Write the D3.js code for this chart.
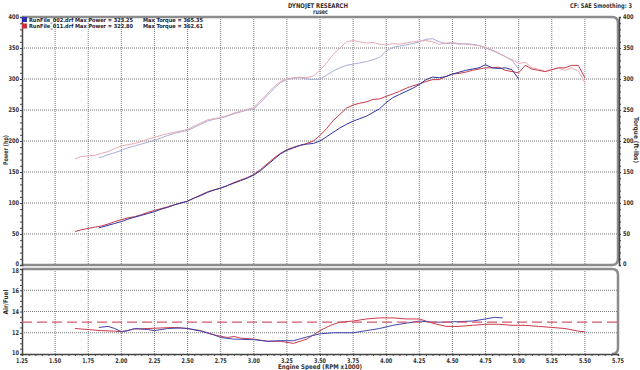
<!DOCTYPE html>
<html>
<head>
<meta charset="utf-8">
<script src="https://cdn.jsdelivr.net/npm/d3@7"></script>
<style>
  body { margin: 0; background: #fff; }
  svg text { font-family: "DejaVu Sans Condensed", "DejaVu Sans", sans-serif; font-weight: bold; font-size: 6.5px; fill: #333; }
  .grid line { stroke: #777; stroke-width: 1; stroke-dasharray: 1,1; }
  .axis path, .axis line { stroke: #444; }
</style>
</head>
<body>
<div id="chart"></div>
<script>
// run 011 (red) - power / torque
const rpm011 = [1.65,1.70,1.75,1.80,1.85,1.90,1.95,2.00,2.05,2.10,2.15,2.20,2.25,2.30,2.35,2.40,2.45,2.50,
    2.55,2.60,2.65,2.70,2.75,2.80,2.85,2.90,2.95,3.00,3.05,3.10,3.15,3.20,3.25,3.30,3.35,3.40,3.45,3.50,
    3.55,3.60,3.65,3.70,3.75,3.80,3.85,3.90,3.95,4.00,4.05,4.10,4.15,4.20,4.25,4.30,4.35,4.40,4.45,4.50,
    4.55,4.60,4.65,4.70,4.75,4.80,4.85,4.90,4.95,5.00,5.05,5.10,5.15,5.20,5.25,5.30,5.35,5.40,5.45,5.50]
const power011 = [54,57,59,61,63,66,70,73,76,78,81,85,88,91,94,97,100,103,
    108,113,118,121,124,128,133,137,141,146,154,163,172,180,186,190,193,196,200,209,
    220,233,243,253,258,261,263,267,268,272,276,280,285,289,292,296,299,299,304,308,
    309,311,314,316,318,318,319,314,312,310,322,316,314,312,315,318,318,322,322,302]
const torque011 = [171,175,176,177,180,183,188,192,194,196,199,203,206,209,212,214,216,219,
    224,229,234,236,238,241,245,248,251,254,265,276,287,296,300,302,303,302,305,314,
    326,340,350,360,362,360,358,359,356,355,357,356,358,360,361,362,360,356,358,359,
    357,356,355,354,351,347,342,336,331,325,327,318,316,312,315,318,314,318,313,294]

// run 002 (blue) - power / torque
const rpm002 = [1.83,1.85,1.90,1.95,2.00,2.05,2.10,2.15,2.20,2.25,2.30,2.35,2.40,2.45,2.50,
    2.55,2.60,2.65,2.70,2.75,2.80,2.85,2.90,2.95,3.00,3.05,3.10,3.15,3.20,3.25,3.30,3.35,3.40,3.45,3.50,
    3.55,3.60,3.65,3.70,3.75,3.80,3.85,3.90,3.95,4.00,4.05,4.10,4.15,4.20,4.25,4.30,4.35,4.40,4.45,4.50,
    4.55,4.60,4.65,4.70,4.75,4.80,4.85,4.90,4.95,5.00]
const power002 = [60,61,64,67,70,74,77,80,83,86,90,93,97,100,103,
    108,112,117,121,124,128,132,136,140,145,152,161,170,179,185,189,193,195,196,200,
    207,214,221,227,232,236,240,246,252,262,270,275,280,285,291,299,303,302,304,308,
    311,314,316,318,323,318,317,318,315,300]
const torque002 = [173,174,178,181,185,189,192,195,198,201,205,209,212,215,217,
    222,227,232,235,237,240,244,247,250,252,262,273,284,294,299,301,302,300,299,300,
    306,313,318,322,324,326,328,331,335,345,351,353,355,357,360,364,365,360,357,358,
    356,357,356,354,350,346,341,336,330,316]

// air / fuel
const afrRpm011 = [1.65,1.75,1.85,1.95,2.00,2.10,2.20,2.30,2.40,2.50,2.60,2.70,2.80,2.85,2.90,3.00,
    3.10,3.20,3.30,3.40,3.50,3.58,3.65,3.75,3.85,3.95,4.05,4.15,4.25,4.35,4.45,4.55,4.65,4.75,
    4.85,4.95,5.05,5.15,5.25,5.35,5.45,5.50]
const afr011 = [12.4,12.3,12.2,12.15,12.1,12.35,12.4,12.45,12.5,12.4,12.2,11.8,11.55,11.65,11.5,11.4,
    11.2,11.2,11.0,11.4,12.2,12.7,13.0,13.1,13.3,13.4,13.4,13.3,13.3,12.9,12.6,12.6,12.7,12.8,
    12.8,12.7,12.7,12.6,12.5,12.4,12.15,12.1]
const afrRpm002 = [1.83,1.90,1.95,2.00,2.05,2.10,2.20,2.25,2.35,2.45,2.50,2.60,2.70,2.75,2.85,3.00,
    3.10,3.20,3.30,3.40,3.50,3.60,3.75,3.85,3.95,4.05,4.15,4.25,4.35,4.45,4.55,4.65,4.75,4.82,4.88]
const afr002 = [12.5,12.6,12.4,12.1,12.2,12.4,12.3,12.2,12.4,12.45,12.4,12.15,11.8,11.55,11.4,11.35,
    11.2,11.25,11.25,11.6,11.9,12.0,12.0,12.2,12.4,12.7,12.9,13.1,13.0,13.0,13.05,13.1,13.3,13.45,13.4]
const afrTarget = 13

const rpmTicks = [1.25,1.50,1.75,2.00,2.25,2.50,2.75,3.00,3.25,3.50,3.75,4.00,4.25,4.50,4.75,5.00,5.25,5.50,5.75]
const powerTicks = [0,50,100,150,200,250,300,350,400]
const afrTicks = [10,12,14,16,18]

const legendRows = [
    {name: 'RunFile_002.drf', power: '323.25', torque: '365.35', color: '#2b2fa8'},
    {name: 'RunFile_011.drf', power: '322.80', torque: '362.61', color: '#c8303c'}
]

//variables
const width = 640
const height = 370
const x = d3.scaleLinear().domain([1.25, 5.75]).range([22, 618])
const yP = d3.scaleLinear().domain([0, 400]).range([265, 17])
const yA = d3.scaleLinear().domain([10, 18]).range([354, 269])

const svg = d3.select('#chart')
    .append('svg')
    .attr('width', width)
    .attr('height', height)

// text helper: fixed width so the narrow dyno font is matched
const label = (g, txt, px, py, len, anchor) => {
    const t = g.append('text')
        .attr('x', px).attr('y', py)
        .attr('text-anchor', anchor || 'start')
        .text(txt)
    if (len) t.attr('textLength', len).attr('lengthAdjust', 'spacingAndGlyphs')
    return t
}

//grid
const grid = svg.append('g').attr('class', 'grid')
const innerRpm = rpmTicks.slice(1, -1)
grid.selectAll('.vt')
    .data(innerRpm)
    .enter()
    .append('line')
    .attr('x1', (d) => x(d)).attr('x2', (d) => x(d))
    .attr('y1', yP(400)).attr('y2', yP(0))
grid.selectAll('.vb')
    .data(innerRpm)
    .enter()
    .append('line')
    .attr('x1', (d) => x(d)).attr('x2', (d) => x(d))
    .attr('y1', yA(18)).attr('y2', yA(10))
grid.selectAll('.ht')
    .data(powerTicks.slice(1, -1))
    .enter()
    .append('line')
    .attr('x1', x(1.25)).attr('x2', x(5.75))
    .attr('y1', (d) => yP(d)).attr('y2', (d) => yP(d))
grid.selectAll('.hb')
    .data(afrTicks.slice(1, -1))
    .enter()
    .append('line')
    .attr('x1', x(1.25)).attr('x2', x(5.75))
    .attr('y1', (d) => yA(d)).attr('y2', (d) => yA(d))

//frames
const frame = (top, bottom, drawBottom) => {
    const l = x(1.25), r = x(5.75), c = 6
    let p = `M${l},${top} H${r - c} Q${r},${top} ${r},${top + c} V${bottom - c} Q${r},${bottom} ${r - c},${bottom}`
    if (drawBottom) p += ` H${l}`
    svg.append('path')
        .attr('d', p)
        .attr('fill', 'none')
        .attr('stroke', '#8c8c8c')
        .attr('stroke-width', 2.5)
}
frame(yP(400), yP(0), true)
frame(yA(18), yA(10), false)

//axes
svg.append('g').attr('class', 'axis')
    .attr('transform', `translate(${x(1.25)},0)`)
    .call(d3.axisLeft(yP).tickValues(d3.range(0, 401, 10)).tickSize(2).tickFormat(''))
svg.append('g').attr('class', 'axis')
    .attr('transform', `translate(${x(5.75) + 1},0)`)
    .call(d3.axisRight(yP).tickValues(d3.range(0, 401, 10)).tickSize(2).tickFormat(''))
svg.append('g').attr('class', 'axis')
    .attr('transform', `translate(${x(1.25)},0)`)
    .call(d3.axisLeft(yA).tickValues(d3.range(10, 18.1, 0.5)).tickSize(2).tickFormat(''))
svg.append('g').attr('class', 'axis')
    .attr('transform', `translate(0,${yA(10)})`)
    .call(d3.axisBottom(x).tickValues(d3.range(1.25, 5.76, 0.05)).tickSize(2).tickFormat(''))
svg.selectAll('.axis .domain').attr('stroke-width', 1.5)

//tick labels
const tl = svg.append('g')
powerTicks.forEach((d) => {
    const yy = d === 0 ? yP(d) + 1 : yP(d) + 2
    label(tl, d, 19, yy, d < 100 ? (d === 0 ? 3.5 : 7) : 10.5, 'end')
    label(tl, d, 623, yy, d < 100 ? (d === 0 ? 3.5 : 7) : 10.5, 'start')
})
afrTicks.forEach((d) => {
    const yy = d === 18 ? yA(d) + 4 : (d === 10 ? yA(d) + 1 : yA(d) + 2.5)
    label(tl, d, 19, yy, 7, 'end')
})
rpmTicks.forEach((d) => {
    label(tl, d.toFixed(2), x(d), 362.5, 12, 'middle')
})

//axis titles
svg.append('text')
    .attr('transform', 'translate(8,150) rotate(-90)')
    .attr('text-anchor', 'middle')
    .attr('textLength', 30).attr('lengthAdjust', 'spacingAndGlyphs')
    .text('Power (hp)')
svg.append('text')
    .attr('transform', 'translate(634,140) rotate(90)')
    .attr('text-anchor', 'middle')
    .attr('textLength', 46).attr('lengthAdjust', 'spacingAndGlyphs')
    .text('Torque (ft-lbs)')
svg.append('text')
    .attr('transform', 'translate(8,302) rotate(-90)')
    .attr('text-anchor', 'middle')
    .attr('textLength', 25).attr('lengthAdjust', 'spacingAndGlyphs')
    .text('Air/Fuel')
label(svg, 'Engine Speed (RPM x1000)', 320, 369, 84, 'middle')

//header
label(svg, 'DYNOJET RESEARCH', 288, 7.5, 60)
label(svg, 'rusec', 313, 14, 15)
label(svg, 'CF: SAE  Smoothing: 3', 570, 7.5, 62)

//legend
const legend = svg.append('g').selectAll('g')
    .data(legendRows)
    .enter()
    .append('g')
    .attr('transform', (d, i) => `translate(22,${17 + i * 6.5})`)
legend.append('rect')
    .attr('width', 5).attr('height', 5)
    .attr('fill', (d) => d.color)
legend.each(function (d) {
    const g = d3.select(this)
    label(g, `${d.name} Max Power = ${d.power}`, 7, 4.8, 104).style('fill', '#223').style('font-size', '5.5px')
    label(g, `Max Torque = ${d.torque}`, 121, 4.8, 60).style('fill', '#223').style('font-size', '5.5px')
})

//lines
const series = [
    {rpm: rpm002, vals: torque002, y: yP, color: '#a9abd8'},
    {rpm: rpm011, vals: torque011, y: yP, color: '#e8a9b6'},
    {rpm: rpm011, vals: power011, y: yP, color: '#c83a48'},
    {rpm: rpm002, vals: power002, y: yP, color: '#3034a0'},
    {rpm: afrRpm011, vals: afr011, y: yA, color: '#cc3a4c'},
    {rpm: afrRpm002, vals: afr002, y: yA, color: '#4046b0'}
]
series.forEach((s) => {
    const line = d3.line()
        .x((d) => x(d))
        .y((d, i) => s.y(s.vals[i]))
    svg.append('path')
        .datum(s.rpm)
        .attr('d', line)
        .attr('fill', 'none')
        .attr('stroke', s.color)
        .attr('stroke-width', 1)
})

svg.append('line')
    .attr('x1', x(1.25)).attr('x2', x(5.75))
    .attr('y1', yA(afrTarget)).attr('y2', yA(afrTarget))
    .attr('stroke', '#d25a6a')
    .attr('stroke-width', 1.2)
    .attr('stroke-dasharray', '10,5')
</script>
</body>
</html>
